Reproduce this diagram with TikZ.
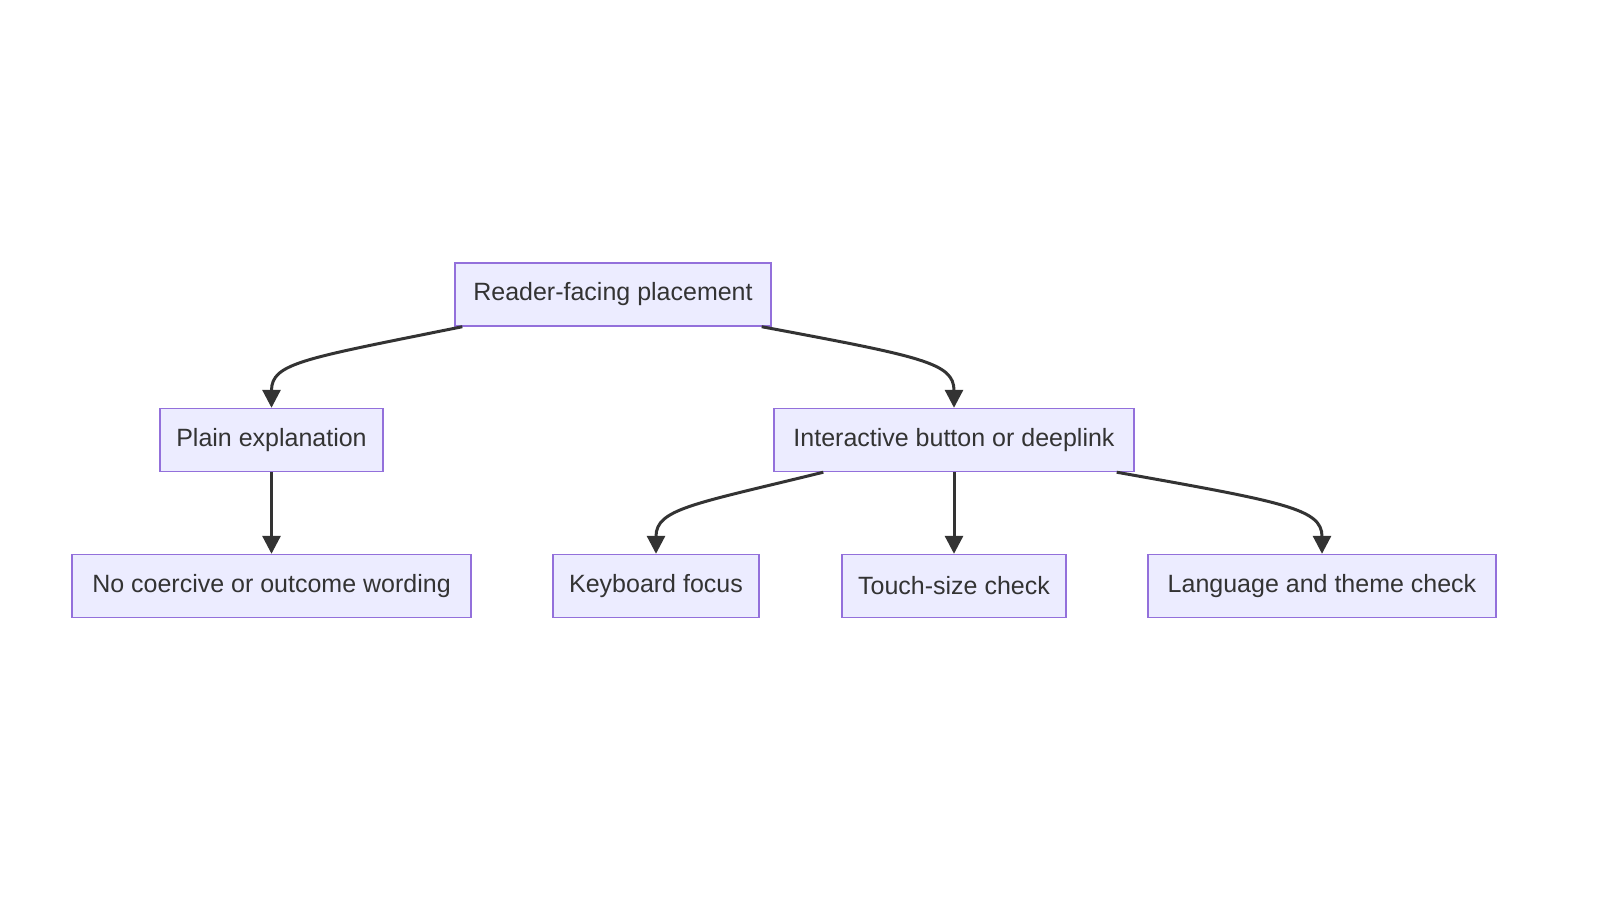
\documentclass[tikz,border=0pt]{standalone}
\usepackage{fontspec}
\setmainfont{Liberation Sans}
\usetikzlibrary{calc,arrows.meta}
\definecolor{nfill}{HTML}{ECECFF}
\definecolor{nline}{HTML}{9370DB}
\definecolor{edge}{HTML}{333333}
\begin{document}
\begin{tikzpicture}[x=0.5pt,y=-0.5pt,
  box/.style={draw=nline,fill=nfill,line width=0.7pt,minimum height=31.5pt,inner sep=0pt,font=\fontsize{12.5}{14}\selectfont,text=edge},
  arr/.style={draw=edge,line width=1.5pt,-{Triangle[length=9pt,width=9pt]}}]
\useasboundingbox (0,0) rectangle (1600,900);
\node[box,minimum width=158pt] (r) at (613,294.5) {Reader-facing placement};
\node[box,minimum width=111.5pt] (p) at (271.5,440) {Plain explanation};
\node[box,minimum width=180pt] (i) at (954,440) {Interactive button or deeplink};
\node[box,minimum width=199.5pt] (n) at (271.5,586) {No coercive or outcome wording};
\node[box,minimum width=103pt] (k) at (656,586) {Keyboard focus};
\node[box,minimum width=112pt] (t) at (954,586) {Touch-size check};
\node[box,minimum width=174pt] (l) at (1322,586) {Language and theme check};
\draw[arr] ($(r.south west)+(8,0)$) .. controls ($(r.south west)+(-150,32)$) and ($(p.north)+(0,-45)$) .. (p.north);
\draw[arr] ($(r.south east)+(-10,0)$) .. controls ($(r.south east)+(150,30)$) and ($(i.north)+(0,-45)$) .. (i.north);
\draw[arr] (p) -- (n);
\draw[arr] ($(i.south west)+(50,0)$) .. controls ($(i.south west)+(-80,32)$) and ($(k.north)+(0,-45)$) .. (k.north);
\draw[arr] (i) -- (t);
\draw[arr] ($(i.south east)+(-18,0)$) .. controls ($(i.south east)+(150,30)$) and ($(l.north)+(0,-45)$) .. (l.north);
\end{tikzpicture}
\end{document}
